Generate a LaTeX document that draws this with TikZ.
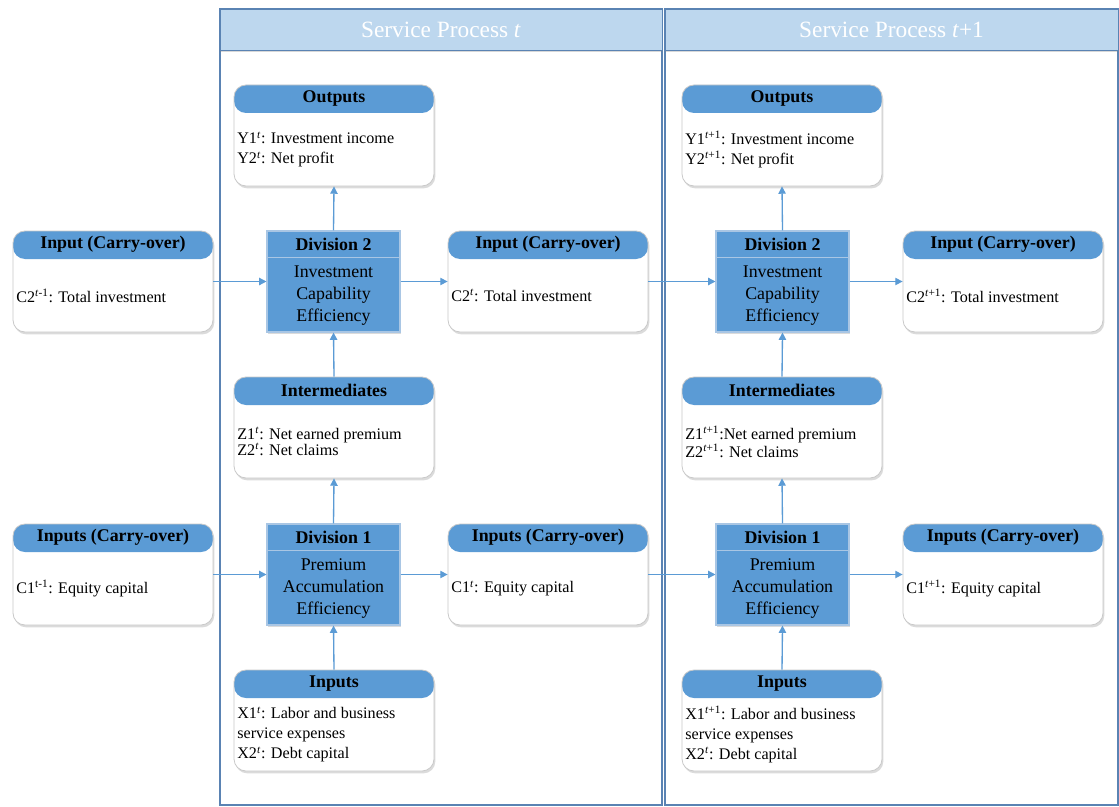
\documentclass[tikz,border=0pt]{standalone}
\usepackage{fontspec}
\setmainfont{Liberation Serif}
\usetikzlibrary{shadows,arrows.meta}

\definecolor{hdrblue}{HTML}{5B9BD5}
\definecolor{barblue}{HTML}{BDD7EE}
\definecolor{frameblue}{HTML}{5A83B3}
\definecolor{cardline}{HTML}{C9C9C9}
\definecolor{divline}{HTML}{A9C6E4}

\tikzset{
  card/.style={draw=cardline, line width=0.6pt, fill=white, rounded corners=9pt,
    minimum width=150pt, minimum height=75.75pt, inner sep=0pt,
    drop shadow={opacity=0.28, shadow xshift=1pt, shadow yshift=-1.8pt},
    path picture={\fill[hdrblue] (path picture bounding box.north west)
      rectangle ([yshift=-21pt]path picture bounding box.north east);}},
  divbox/.style={draw=divline, line width=0.8pt, fill=hdrblue,
    minimum width=99.75pt, minimum height=75.75pt, inner sep=0pt,
    drop shadow={opacity=0.28, shadow xshift=1pt, shadow yshift=-1.8pt}},
  divsep/.style={draw=divline, line width=0.8pt},
  hdrtext/.style={font=\fontsize{13.4}{15}\selectfont\bfseries, inner sep=0pt},
  bodytext/.style={font=\fontsize{12.1}{15}\selectfont, align=left, inner sep=0pt, anchor=west},
  divtext/.style={font=\fontsize{13.4}{16.2}\selectfont, align=center, inner sep=0pt},
  bar/.style={draw=frameblue, line width=0.7pt, fill=barblue, text=white,
    font=\fontsize{17.5}{19}\selectfont, inner sep=0pt,
    drop shadow={opacity=0.3, shadow xshift=0pt, shadow yshift=-1.5pt}},
  panel/.style={draw=frameblue, line width=0.8pt},
  flow/.style={draw=hdrblue, line width=1pt, -{Triangle[length=5.5pt,width=5.5pt]}},
}

% coloured header card: name, centre, header, body
\newcommand{\infocard}[5][]{%
  \node[card] (#2) at (#3) {};
  \node[hdrtext] (#2-h) at ([yshift=-10.5pt]#2.north) {#4};
  \node[bodytext,#1] (#2-b) at ([xshift=2.6pt,yshift=-10.5pt]#2.west) {#5};
}
% division block: name, centre, header, body
\newcommand{\divblock}[4]{%
  \node[divbox] (#1) at (#2) {};
  \draw[divsep] ([yshift=-20.25pt]#1.north west) -- ([yshift=-20.25pt]#1.north east);
  \node[hdrtext] (#1-h) at ([yshift=-10.1pt]#1.north) {#3};
  \node[divtext] (#1-b) at ([yshift=-10.5pt]#1.center) {#4};
}
\newcommand{\sups}[1]{\textsuperscript{#1}}

\begin{document}
\begin{tikzpicture}[x=0.75pt, y=-0.75pt]
\useasboundingbox (0,0) rectangle (1119,806);
\fill[white] (0,0) rectangle (1119,806);

% service process panels
\draw[panel] (220,9) rectangle (662,805);
\draw[panel] (665,9) rectangle (1118,805);
\node[bar, minimum width=331.5pt, minimum height=30.75pt] (sp1) at (441,29.5) {Service Process \textit{t}};
\node[bar, minimum width=339.75pt, minimum height=30.75pt] (sp2) at (891.5,29.5) {Service Process \textit{t}+1};

% period t
\infocard{o1}{334,135.5}{Outputs}{Y1\sups{\textit{t}}: Investment income\\Y2\sups{\textit{t}}: Net profit}
\infocard{L2}{113,281.5}{Input (Carry-over)}{C2\sups{\textit{t}-1}: Total investment}
\divblock{d2}{333.5,281.5}{Division 2}{Investment\\Capability\\Efficiency}
\infocard{m2}{548,281.5}{Input (Carry-over)}{C2\sups{\textit{t}}: Total investment}
\infocard[font=\fontsize{12.1}{12}\selectfont]{im1}{334,427.5}{Intermediates}{Z1\sups{\textit{t}}: Net earned premium\\Z2\sups{\textit{t}}: Net claims}
\infocard{L1}{113,574.5}{Inputs (Carry-over)}{C1\sups{t-1}: Equity capital}
\divblock{d1}{333.5,574.5}{Division 1}{Premium\\Accumulation\\Efficiency}
\infocard{m1}{548,574.5}{Inputs (Carry-over)}{C1\sups{\textit{t}}: Equity capital}
\infocard{in1}{334,720.5}{Inputs}{X1\sups{\textit{t}}: Labor and business\\service expenses\\X2\sups{\textit{t}}: Debt capital}

% period t+1
\infocard{o2}{782,135.5}{Outputs}{Y1\sups{\textit{t}+1}: Investment income\\Y2\sups{\textit{t}+1}: Net profit}
\divblock{d2b}{782.5,281.5}{Division 2}{Investment\\Capability\\Efficiency}
\infocard{r2}{1003,281.5}{Input (Carry-over)}{C2\sups{\textit{t}+1}: Total investment}
\infocard[font=\fontsize{12.1}{12}\selectfont]{im2}{782,427.5}{Intermediates}{Z1\sups{\textit{t}+1}:Net earned premium\\Z2\sups{\textit{t}+1}: Net claims}
\divblock{d1b}{782.5,574.5}{Division 1}{Premium\\Accumulation\\Efficiency}
\infocard{r1}{1003,574.5}{Inputs (Carry-over)}{C1\sups{\textit{t}+1}: Equity capital}
\infocard{in2}{782,720.5}{Inputs}{X1\sups{\textit{t}+1}: Labor and business\\service expenses\\X2\sups{\textit{t}}: Debt capital}

% connectors
\draw[flow] (L2.east) -- (d2.west);
\draw[flow] (d2.east) -- (m2.west);
\draw[flow] (m2.east) -- (d2b.west);
\draw[flow] (d2b.east) -- (r2.west);
\draw[flow] (L1.east) -- (d1.west);
\draw[flow] (d1.east) -- (m1.west);
\draw[flow] (m1.east) -- (d1b.west);
\draw[flow] (d1b.east) -- (r1.west);

\draw[flow] (d2.north) -- (o1.south);
\draw[flow] (im1.north) -- (d2.south);
\draw[flow] (d1.north) -- (im1.south);
\draw[flow] (in1.north) -- (d1.south);
\draw[flow] (d2b.north) -- (o2.south);
\draw[flow] (im2.north) -- (d2b.south);
\draw[flow] (d1b.north) -- (im2.south);
\draw[flow] (in2.north) -- (d1b.south);
\end{tikzpicture}
\end{document}
